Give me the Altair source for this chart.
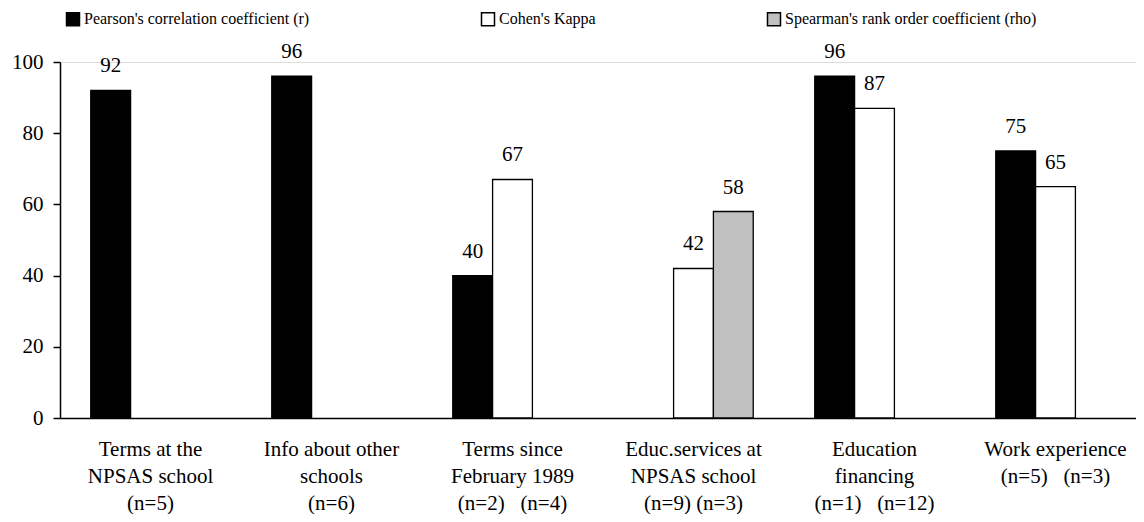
import altair as alt
import pandas as pd

NB = "\u00a0"
categories = [
    "Terms at the\nNPSAS school\n(n=5)",
    "Info about other\nschools\n(n=6)",
    "Terms since\nFebruary 1989\n(n=2)" + NB * 3 + "(n=4)",
    "Educ.services at\nNPSAS school\n(n=9)" + NB + "(n=3)",
    "Education\nfinancing\n(n=1)" + NB * 3 + "(n=12)",
    "Work experience\n(n=5)" + NB * 3 + "(n=3)",
]
metrics = [
    "Pearson's correlation coefficient (r)",
    "Cohen's Kappa",
    "Spearman's rank order coefficient (rho)",
]
pearson = [92, 96, 40, None, 96, 75]
kappa = [None, None, 67, 42, 87, 65]
spearman = [None, None, None, 58, None, None]
colors = ["#000000", "#ffffff", "#c0c0c0"]

rows = []
for series, name in zip([pearson, kappa, spearman], metrics):
    for cat, v in zip(categories, series):
        if v is not None:
            rows.append({"category": cat, "metric": name, "value": v})
df = pd.DataFrame(rows)

FONT = "Liberation Serif, Times New Roman, serif"

x_enc = alt.X(
    "category:N",
    sort=categories,
    scale=alt.Scale(domain=categories, range=[0, 1086], paddingInner=0.34, paddingOuter=0.17),
    axis=alt.Axis(
        title=None,
        labelExpr="split(datum.label, '\\n')",
        labelAngle=0,
        ticks=False,
        labelPadding=20,
        labelFontSize=21,
        labelLineHeight=27,
        labelFont=FONT,
        labelColor="black",
        labelLimit=400,
        labelOverlap=False,
        domainColor="black",
        domainWidth=1.5,
    ),
)
xo_enc = alt.XOffset("metric:N", scale=alt.Scale(domain=metrics, paddingInner=0, paddingOuter=0))
y_enc = alt.Y(
    "value:Q",
    scale=alt.Scale(domain=[0, 100]),
    axis=alt.Axis(
        title=None,
        values=[0, 20, 40, 60, 80, 100],
        grid=False,
        tickSize=7,
        tickColor="black",
        tickWidth=1.5,
        labelPadding=10,
        labelFontSize=21,
        labelFont=FONT,
        labelColor="black",
        domainColor="black",
        domainWidth=1.5,
    ),
)

base = alt.Chart(df).encode(x=x_enc, xOffset=xo_enc, y=y_enc)

bars = base.mark_bar(stroke="black", strokeWidth=1.3).encode(
    color=alt.Color(
        "metric:N",
        scale=alt.Scale(domain=metrics, range=colors),
        legend=alt.Legend(
            title=None,
            orient="none",
            legendX=5,
            legendY=-51,
            direction="horizontal",
            symbolType="square",
            symbolSize=169,
            symbolStrokeColor="black",
            symbolStrokeWidth=1.5,
            labelFont=FONT,
            labelFontSize=16,
            labelColor="black",
            labelOffset=3,
            columnPadding=168,
            labelLimit=500,
        ),
    )
)

labels = base.mark_text(
    baseline="alphabetic", dy=-18, fontSize=21, font=FONT, color="black"
).encode(text=alt.Text("value:Q"))

chart = (
    (bars + labels)
    .properties(
        width=1076,
        height=356,
        autosize="none",
        padding={"left": 52, "top": 54, "right": 0, "bottom": 96},
    )
    .configure_view(stroke=None)
    .configure(background="white", font=FONT)
)

chart.save("out.html", embed_options={"renderer": "svg", "actions": False})
